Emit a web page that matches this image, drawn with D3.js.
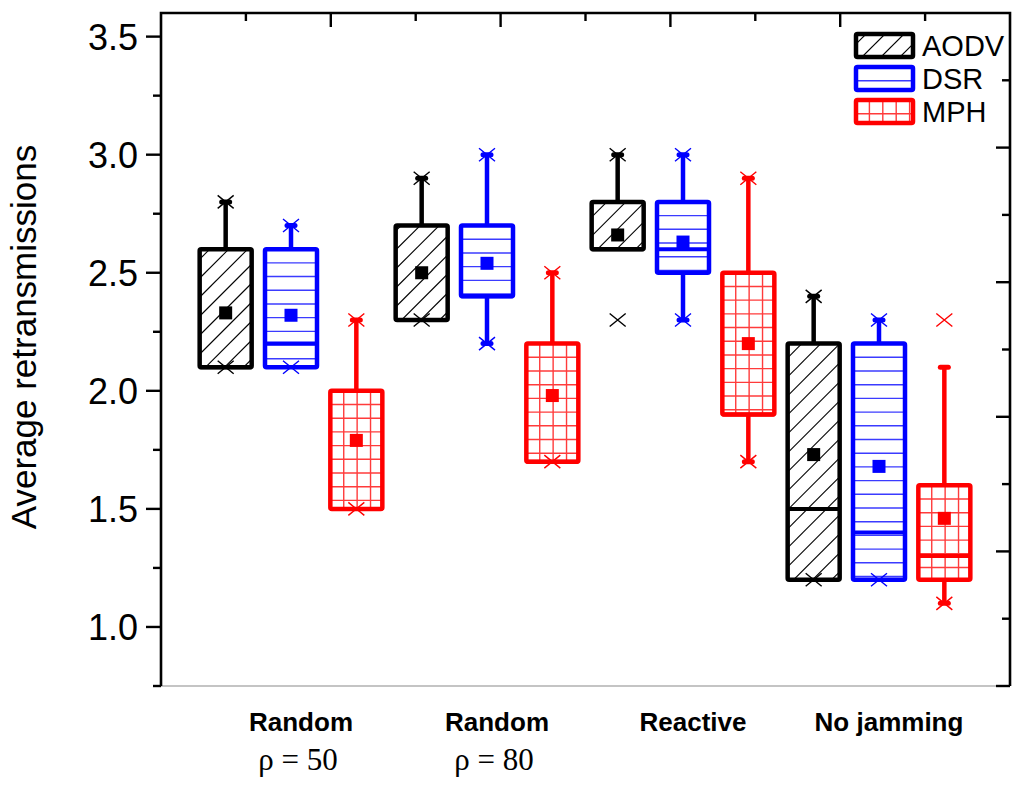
<!DOCTYPE html>
<html><head><meta charset="utf-8">
<script src="https://cdn.jsdelivr.net/npm/d3@7"></script>
<style>body{margin:0;background:#fff} svg{display:block}</style>
</head><body>
<svg id="chart" width="1024" height="789"></svg>
<script>
// ---------- data ----------
const categories = ["Random", "Random", "Reactive", "No jamming"];
const subLabels = ["ρ = 50", "ρ = 80", "", ""];
const series = ["AODV", "DSR", "MPH"];
const boxLow    = { AODV: [2.1, 2.3, 2.6, 1.2], DSR: [2.1, 2.4, 2.5, 1.2], MPH: [1.5, 1.7, 1.9, 1.2] };
const boxHigh   = { AODV: [2.6, 2.7, 2.8, 2.2], DSR: [2.6, 2.7, 2.8, 2.2], MPH: [2.0, 2.2, 2.5, 1.6] };
const medians   = { AODV: [2.1, 2.3, 2.6, 1.5], DSR: [2.2, 2.4, 2.6, 1.4], MPH: [1.5, 1.7, 1.9, 1.3] };
const means     = { AODV: [2.33, 2.50, 2.66, 1.73], DSR: [2.32, 2.54, 2.63, 1.68], MPH: [1.79, 1.98, 2.20, 1.46] };
const whiskLow  = { AODV: [2.1, 2.3, 2.6, 1.2], DSR: [2.1, 2.2, 2.3, 1.2], MPH: [1.5, 1.7, 1.7, 1.1] };
const whiskHigh = { AODV: [2.8, 2.9, 3.0, 2.4], DSR: [2.7, 3.0, 3.0, 2.3], MPH: [2.3, 2.5, 2.9, 2.1] };
const maxMarks  = { AODV: [2.8, 2.9, 3.0, 2.4], DSR: [2.7, 3.0, 3.0, 2.3], MPH: [2.3, 2.5, 2.9, 2.3] };
const minMarks  = { AODV: [2.1, 2.3, 2.3, 1.2], DSR: [2.1, 2.2, 2.3, 1.2], MPH: [1.5, 1.7, 1.7, 1.1] };
const yTickValues = [1.0, 1.5, 2.0, 2.5, 3.0, 3.5];
const yMinorValues = [0.75, 1.25, 1.75, 2.25, 2.75, 3.25];
const yTickLabels = ["1.0", "1.5", "2.0", "2.5", "3.0", "3.5"];
const frameTicks = [0, 1, 2, 3, 4, 5, 6, 7, 8, 9, 10];
const yTitle = "Average retransmissions";

// ---------- setup ----------
const svg = d3.select("#chart");
const colors = { AODV: "#000000", DSR: "#0000ff", MPH: "#ff0000" };
const hatchColors = { AODV: "#000000", DSR: "#3b3bff", MPH: "#ff3b3b" };
const patterns = { AODV: "diag", DSR: "hline", MPH: "grid" };
const L = 161, R = 1010, T = 13, B = 686;

const y = d3.scaleLinear().domain([0.75, 3.6]).range([B, T]);
const x = d3.scaleBand().domain(d3.range(categories.length)).range([193, 977]);
const xs = d3.scaleBand().domain(series).range([0, x.bandwidth()]);
const boxW = 52;
const yR = d3.scaleLinear().domain([0, 10]).range([B, T]);
const xT = d3.scaleLinear().domain([0, 10]).range([L, R]);

const defs = svg.append("defs");
let clipN = 0;
function hatch(g, type, x0, y0, w, h, color) {
  const id = "clip" + (clipN++);
  defs.append("clipPath").attr("id", id).append("rect")
    .attr("x", x0).attr("y", y0).attr("width", w).attr("height", h);
  const hg = g.append("g").attr("clip-path", `url(#${id})`)
    .attr("stroke", color).attr("fill", "none");
  if (type === "diag") {
    const s = 19;
    for (let k = -Math.ceil(h / s) - 1; k <= Math.ceil(w / s) + 1; k++) {
      const xa = x0 + k * s + 6;
      hg.append("line").attr("x1", xa).attr("y1", y0 + h).attr("x2", xa + h).attr("y2", y0)
        .attr("stroke-width", 1.1);
    }
  } else {
    const sh = 13.7;
    for (let yy = y0 + sh; yy < y0 + h - 1; yy += sh) {
      hg.append("line").attr("x1", x0).attr("x2", x0 + w).attr("y1", yy).attr("y2", yy)
        .attr("stroke-width", 1.4);
    }
    if (type === "grid") {
      const sv = 13.4;
      for (let xx = x0 + sv; xx < x0 + w - 1; xx += sv) {
        hg.append("line").attr("x1", xx).attr("x2", xx).attr("y1", y0).attr("y2", y0 + h)
          .attr("stroke-width", 1.4);
      }
    }
  }
}

// ---------- frame ----------
const frame = svg.append("g").attr("stroke", "#000").attr("fill", "none");
frame.append("line").attr("x1", L).attr("x2", R).attr("y1", B).attr("y2", B)
  .attr("stroke", "#8a8a8a").attr("stroke-width", 1.2);
frame.append("path").attr("d", `M${L},${B}V${T}H${R}V${B}`).attr("stroke-width", 2.6);

// left axis ticks (outward)
frame.selectAll(".ymaj").data(yTickValues).join("line")
  .attr("x1", L - 15).attr("x2", L).attr("y1", d => y(d)).attr("y2", d => y(d)).attr("stroke-width", 2.4);
frame.selectAll(".ymin").data(yMinorValues).join("line")
  .attr("x1", L - 8).attr("x2", L).attr("y1", d => y(d)).attr("y2", d => y(d)).attr("stroke-width", 2.4);
// right axis ticks (inward)
frame.selectAll(".rt").data(frameTicks.slice(0, 10)).join("line")
  .attr("x1", d => R - (d % 2 === 0 ? 14 : 8)).attr("x2", R)
  .attr("y1", d => yR(d)).attr("y2", d => yR(d)).attr("stroke-width", 2.4);
// top axis ticks (inward)
frame.selectAll(".tt").data(frameTicks.slice(1, 10)).join("line")
  .attr("y1", T).attr("y2", d => T + (d % 2 === 0 ? 14 : 8))
  .attr("x1", d => xT(d)).attr("x2", d => xT(d)).attr("stroke-width", 2.4);

// y tick labels
svg.append("g").selectAll("text").data(yTickValues).join("text")
  .attr("x", 138).attr("y", d => y(d)).attr("dy", "0.36em")
  .attr("text-anchor", "end").attr("font-family", "'Liberation Sans', Arial, sans-serif")
  .attr("font-size", 36).attr("fill", "#000")
  .text((d, i) => yTickLabels[i]);

// y title
svg.append("text").attr("transform", `translate(36,${337}) rotate(-90)`)
  .attr("text-anchor", "middle").attr("font-family", "'Liberation Sans', Arial, sans-serif")
  .attr("font-size", 35).attr("fill", "#000").text(yTitle);

// category labels
const catG = svg.append("g");
catG.selectAll("text.cat").data(categories).join("text").attr("class", "cat")
  .attr("x", (d, i) => x(i) + x.bandwidth() / 2 + 10).attr("y", 731)
  .attr("text-anchor", "middle")
  .attr("font-family", "'Liberation Sans', Arial, sans-serif")
  .attr("font-weight", "bold").attr("font-size", 26).attr("fill", "#000")
  .text(d => d);
catG.selectAll("text.sub").data(subLabels).join("text").attr("class", "sub")
  .attr("x", (d, i) => x(i) + x.bandwidth() / 2 + 7).attr("y", 770)
  .attr("text-anchor", "middle")
  .attr("font-family", "'Liberation Serif', 'Times New Roman', serif")
  .attr("font-size", 31).attr("fill", "#000")
  .text(d => d);

// ---------- boxes ----------
const plotG = svg.append("g");
series.forEach(s => {
  const col = colors[s];
  categories.forEach((c, i) => {
    const cx = x(i) + xs(s) + xs.bandwidth() / 2;
    const g = plotG.append("g");
    const yTop = y(boxHigh[s][i]), yBot = y(boxLow[s][i]);
    const x0 = cx - boxW / 2;
    // whiskers
    const wg = g.append("g").attr("stroke", col).attr("stroke-width", 4.5);
    if (whiskHigh[s][i] > boxHigh[s][i]) {
      wg.append("line").attr("x1", cx).attr("x2", cx).attr("y1", yTop).attr("y2", y(whiskHigh[s][i]));
      wg.append("line").attr("x1", cx - 4).attr("x2", cx + 4)
        .attr("y1", y(whiskHigh[s][i])).attr("y2", y(whiskHigh[s][i]))
        .attr("stroke-linecap", "round").attr("stroke-width", 5);
    }
    if (whiskLow[s][i] < boxLow[s][i]) {
      wg.append("line").attr("x1", cx).attr("x2", cx).attr("y1", yBot).attr("y2", y(whiskLow[s][i]));
      wg.append("line").attr("x1", cx - 4).attr("x2", cx + 4)
        .attr("y1", y(whiskLow[s][i])).attr("y2", y(whiskLow[s][i]))
        .attr("stroke-linecap", "round").attr("stroke-width", 5);
    }
    // box
    g.append("rect").attr("x", x0).attr("y", yTop).attr("width", boxW).attr("height", yBot - yTop)
      .attr("fill", "#fff");
    hatch(g, patterns[s], x0, yTop, boxW, yBot - yTop, hatchColors[s]);
    g.append("rect").attr("x", x0).attr("y", yTop).attr("width", boxW).attr("height", yBot - yTop)
      .attr("fill", "none").attr("stroke", col).attr("stroke-width", 4.5)
      .attr("rx", 1.5).attr("stroke-linejoin", "round");
    // median
    g.append("line").attr("x1", x0).attr("x2", x0 + boxW)
      .attr("y1", y(medians[s][i])).attr("y2", y(medians[s][i]))
      .attr("stroke", col).attr("stroke-width", 4);
    // x marks
    [maxMarks[s][i], minMarks[s][i]].forEach(v => {
      const my = y(v), hw = 8, hh = 6.5;
      g.append("path").attr("d", `M${cx - hw},${my - hh}L${cx + hw},${my + hh}M${cx - hw},${my + hh}L${cx + hw},${my - hh}`)
        .attr("stroke", col).attr("stroke-width", 1.4).attr("fill", "none");
    });
    // mean
    g.append("rect").attr("x", cx - 6.5).attr("y", y(means[s][i]) - 6.5)
      .attr("width", 13).attr("height", 13).attr("fill", col);
  });
});

// ---------- legend ----------
const leg = svg.append("g");
series.forEach((s, k) => {
  const ly = 34 + k * 33;
  const g = leg.append("g");
  g.append("rect").attr("x", 856).attr("y", ly).attr("width", 57).attr("height", 23).attr("fill", "#fff");
  hatch(g, patterns[s], 856, ly, 57, 23, hatchColors[s]);
  g.append("rect").attr("x", 856).attr("y", ly).attr("width", 57).attr("height", 23)
    .attr("fill", "none").attr("stroke", colors[s]).attr("stroke-width", 4.5).attr("rx", 1.5);
  g.append("text").attr("x", 922).attr("y", ly + 11.5).attr("dy", "0.36em")
    .attr("font-family", "'Liberation Sans', Arial, sans-serif").attr("font-size", 29)
    .attr("fill", "#000").text(s);
});
</script>
</body></html>
